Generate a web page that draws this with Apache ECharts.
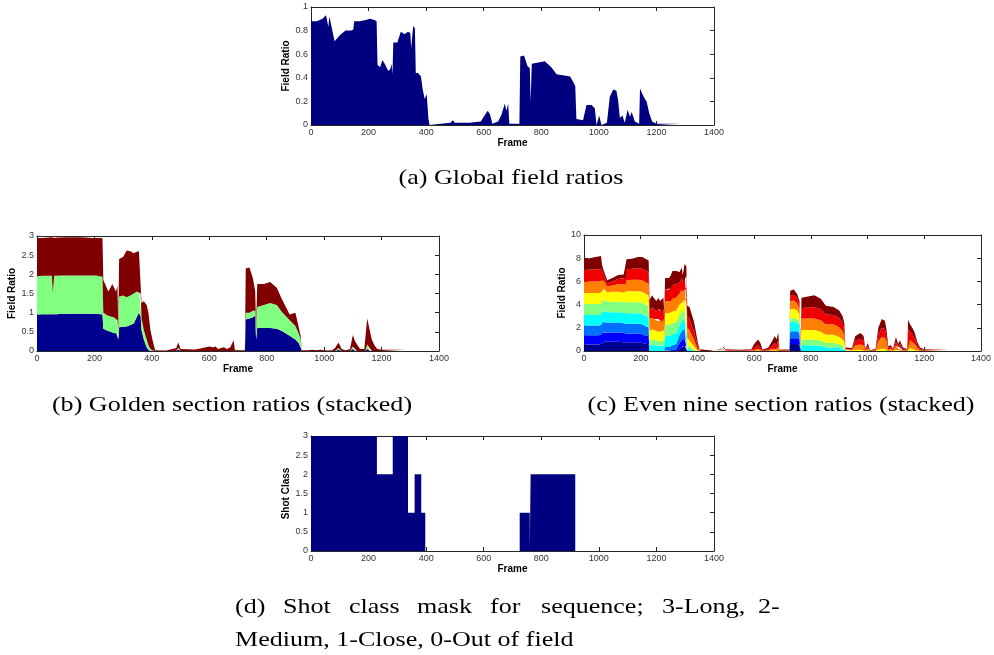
<!DOCTYPE html>
<html>
<head>
<meta charset="utf-8">
<script src="https://cdn.jsdelivr.net/npm/echarts@6/dist/echarts.min.js"></script>
<style>
html, body { margin: 0; padding: 0; background: #fff; }
#main { width: 994px; height: 655px; }
</style>
</head>
<body>
<div id="main"></div>
<script>
// frame numbers shared by panels a, b and c
var frames = [0,20,40,52,55,60,64,70,82,100,
    120,140,147,150,170,190,205,220,228,231,
    240,248,256,262,268,275,280,283,286,300,
    306,312,325,337,345,348,355,361,364,372,
    382,388,395,402,408,412,450,485,492,500,
    550,590,600,614,622,630,650,662,673,679,
    685,689,724,727,740,752,760,763,767,790,
    812,835,853,880,900,912,918,922,945,957,
    975,986,992,1001,1009,1028,1038,1050,1061,1067,
    1073,1082,1090,1100,1108,1114,1125,1140,1143,1150,
    1160,1166,1175,1185,1200,1282,1286];

// (a) global field ratio
var globalRatio = [.88,.88,.90,.93,.90,.83,.92,.91,.71,.76,
    .80,.80,.81,.88,.88,.89,.90,.89,.88,.51,
    .49,.55,.52,.49,.46,.47,.52,.43,.70,.70,
    .70,.79,.77,.79,.78,.65,.84,.82,.44,.44,
    .41,.30,.22,.26,.05,0,.01,.02,.04,.02,
    .02,.03,.07,.12,.09,.01,.03,.09,.18,.12,
    .18,.01,.01,.58,.59,.50,.48,.20,.52,.53,
    .54,.49,.43,.42,.41,.36,.33,.05,.04,.17,
    .17,.14,0,.08,0,.02,.24,.30,.29,.21,
    .06,.08,.02,.13,.07,.11,.03,.01,.31,.27,
    .22,.20,.10,.03,.01,.01,0];

// (b) golden section ratios, bottom to top
var goldLow = [.95,.96,.96,.96,.96,.96,.96,.96,.97,.97,
    .97,.97,.97,.97,.97,.97,.97,.96,.96,.58,
    .55,.52,.50,.50,.47,.48,.45,.30,.62,.63,
    .62,.64,.68,.72,.85,.90,1.0,.90,.55,.30,
    .10,.03,0,0,0,0,0,0,.04,0,
    0,0,0,0,0,0,0,0,0,0,
    0,0,0,.82,.85,.88,.92,.30,.60,.60,
    .60,.58,.52,.40,.30,.20,.10,0,0,0,
    0,0,0,0,0,0,0,.03,0,0,
    0,0,0,.05,0,0,0,0,0,.05,
    0,0,0,0,0,0,0];
var goldMid = [1,1,1,1,.55,1,1,1,1,1,
    1,1,1,1,1,1,1,.99,.98,.42,
    .40,.40,.40,.40,.41,.37,.35,.25,.80,.82,
    .83,.76,.77,.78,.70,.65,.55,.60,.30,.25,
    .20,.12,.05,.02,0,0,0,0,.05,0,
    0,0,0,0,0,0,0,0,0,0,
    .05,0,0,.18,.15,.17,.13,.20,.55,.60,
    .65,.62,.50,.40,.35,.25,.20,0,0,0,
    0,0,0,0,0,0,0,.05,0,0,
    0,0,0,.07,0,0,0,0,0,.12,
    0,0,0,0,0,0,0];
var goldTop = [1,.99,1,1.01,1.45,.99,1.01,1,.99,1,
    1,1,1,1,.99,.98,.98,1,1,.85,
    .75,.63,.75,.85,.82,.70,.90,.15,.98,1,
    1.05,1.22,1.15,1.05,1.03,1,1.05,1.15,.40,.75,
    .90,.85,.50,.28,.12,.02,.01,.08,.13,.05,
    .04,.10,.12,.10,.12,.05,.10,.05,.10,.15,
    .23,.02,.02,1.15,1.18,.85,.50,.10,.60,.55,
    .55,.45,.33,.15,.35,.15,.10,.02,.02,.03,
    .02,.03,.01,.02,.01,.02,.08,.14,.05,.02,
    .02,.03,.05,.30,.25,.20,.05,.05,.30,.68,
    .50,.30,.15,.05,.03,.03,0];

// (c) even nine section ratios, bottom to top
var sec1 = [.55,.55,.55,.55,.55,.6,.75,.8,.8,.8,
    .8,.75,.75,.75,.75,.75,.7,.6,.6,0,
    0,0,0,0,0,0,0,0,0,0,
    0,0,0,.2,.35,.4,.45,.4,0,0,
    0,0,0,0,0,0,0,0,0,0,
    0,0,0,0,0,0,0,0,0,0,
    0,0,0,.6,.6,.6,.55,0,0,0,
    0,0,0,0,0,0,0,0,0,0,
    0,0,0,0,0,0,0,0,0,0,
    0,0,0,0,0,0,0,0,0,0,
    0,0,0,0,0,0,0];
var sec2 = [.8,.8,.8,.8,.8,.8,.85,.85,.8,.8,
    .8,.8,.8,.75,.75,.75,.75,.7,.7,0,
    0,0,0,0,0,0,0,0,.05,.05,
    .05,.1,.15,.5,.6,.6,.65,.6,0,0,
    0,0,0,0,0,0,0,0,0,0,
    0,0,0,0,0,0,0,0,0,0,
    0,0,0,.5,.5,.5,.45,0,0,0,
    0,0,0,0,0,0,0,0,0,0,
    0,0,0,0,0,0,0,0,0,0,
    0,0,0,0,0,0,0,0,0,0,
    0,0,0,0,0,0,0];
var sec3 = [.85,.85,.85,.85,.85,.85,.9,.9,.85,.85,
    .85,.85,.85,.85,.85,.85,.85,.8,.8,0,
    0,0,0,0,0,0,0,0,.3,.3,
    .3,.4,.45,.7,.8,.8,.8,.8,0,0,
    0,0,0,0,0,0,0,0,0,0,
    0,0,0,0,0,0,0,0,0,0,
    0,0,0,.6,.6,.6,.55,0,0,0,
    0,0,0,0,0,0,0,0,0,0,
    0,0,0,0,0,0,0,0,0,0,
    0,0,0,0,0,0,0,0,0,0,
    0,0,0,0,0,0,0];
var sec4 = [.9,.9,.9,.9,.9,.9,.95,.95,.9,.9,
    .9,.9,.9,.9,.9,.9,.9,.9,.85,.5,
    .5,.5,.5,.5,.45,.45,.5,.35,.95,.95,
    .95,.95,.95,.85,.85,.8,.85,.85,.2,.15,
    .05,0,0,0,0,0,0,0,0,0,
    0,0,0,0,0,0,0,0,0,0,
    0,0,0,.8,.8,.75,.7,.1,.5,.5,
    .5,.45,.3,.3,.25,.2,.15,.05,0,0,
    0,0,0,0,0,0,0,0,0,0,
    0,0,0,0,0,0,0,0,0,0,
    0,0,0,0,0,0,0];
var sec5 = [.95,.95,.95,.95,.95,.95,.95,.95,.9,.9,
    .9,.9,.9,.95,.95,.95,.95,.95,.9,.4,
    .45,.45,.4,.45,.4,.4,.45,.3,.95,.95,
    .95,.95,.95,.85,.85,.8,.9,.9,.3,.25,
    .15,.1,.05,0,0,0,0,0,0,0,
    0,0,0,0,0,0,0,0,0,0,
    0,0,0,.3,.35,.3,.25,.1,.5,.5,
    .5,.45,.4,.4,.35,.3,.25,0,0,0,
    0,0,0,0,0,0,0,0,0,0,
    0,0,0,0,0,0,0,0,.05,.05,
    0,0,0,0,0,0,0];
var sec6 = [.95,.95,.95,.95,.95,.95,.9,.9,.8,.85,
    .85,.85,.85,.95,.95,.95,.95,.95,.95,.85,
    .9,.85,.8,.85,.8,.8,.85,.6,1,1,
    1,1,1,.9,.9,.85,.95,.95,.6,.5,
    .4,.3,.15,.05,0,0,0,0,.05,0,
    0,0,0,.05,0,0,0,.05,.05,.05,
    .1,0,0,.8,.8,.75,.65,.1,.8,.8,
    .8,.75,.7,.7,.6,.5,.4,.05,.05,.1,
    .1,.1,0,.05,0,0,.15,.2,.2,.1,
    0,.05,0,.1,.05,.05,0,0,.25,.2,
    .15,.1,.05,0,0,0,0];
var sec7 = [1,1,1,1,1,1,.85,.7,.5,.55,
    .65,.7,.7,.95,1,1,1,1,1,1,
    1,.95,.9,.95,.95,.9,.95,.75,1.05,1.05,
    1.05,1.1,1.1,.95,.95,.85,1,1,.9,.9,
    .7,.6,.3,.1,0,0,0,.05,.1,.05,
    0,.05,.1,.15,.1,0,.05,.15,.25,.15,
    .3,0,.05,.7,.7,.6,.5,.1,1,1,
    1,1,.9,.9,.85,.7,.55,.05,.05,.4,
    .45,.4,.05,.2,0,.05,.7,1,.95,.7,
    .1,.15,.05,.35,.15,.25,.05,.05,.8,.7,
    .6,.5,.25,.05,.05,.05,0];
var sec8 = [1,1,1.05,1.05,1.05,1.05,.75,.5,.3,.35,
    .45,.5,.55,.95,.95,1,1,1,1,.8,
    .9,.85,.8,.9,.85,.85,.9,.7,1,1,
    1.1,1.2,1.15,.95,1,.8,1,.95,.95,1,
    .8,.7,.5,.2,.05,0,0,.05,.1,.05,
    .05,.05,.2,.3,.2,.05,.1,.2,.4,.3,
    .5,.05,.05,.5,.5,.45,.35,.05,.9,.95,
    1,.95,.85,.8,.8,.7,.55,.05,.05,.4,
    .5,.4,.05,.2,0,.05,.6,.8,.75,.5,
    .15,.15,.05,.35,.2,.3,.1,.05,.8,.7,
    .6,.5,.25,.1,.05,.05,0];
var sec9 = [.95,1,1.05,1.1,1.1,1.1,.5,.35,.25,.3,
    .35,.35,.4,.85,.85,.95,1,1,1,.85,
    1.05,.9,.9,.95,.85,.8,.95,.7,1,1,
    1.1,1.2,1.15,.9,.9,.6,.9,.85,.95,1,
    .9,.8,.6,.3,.1,0,.05,.05,.1,.05,
    .05,.05,.3,.5,.4,.05,.15,.4,.6,.5,
    .7,.05,.05,.4,.45,.35,.3,.05,.9,.95,
    1,.9,.75,.7,.65,.6,.5,.1,.1,.4,
    .5,.4,.1,.25,.05,.1,.55,.75,.7,.5,
    .15,.15,.1,.4,.2,.3,.15,.05,.8,.65,
    .55,.5,.25,.15,.05,.05,0];
var nineColors = ['#00008f','#0000ff','#0070ff','#00ffff','#80ff80','#ffff00','#ff8000','#f00000','#800000'];

// (d) shot class: value holds from each start frame to the next
var shotFrames = [0,229,284,337,360,383,397,725,760,763,918];
var shotClass = [3,2,3,1,2,1,0,1,0,2,0];

var chartDom = document.getElementById('main');
var myChart = echarts.init(chartDom);

var boxColor = '#262626';
var panels = [
    {left: 311, top: 7, width: 403, height: 118, max: 1, interval: 0.2, yname: 'Field Ratio'},
    {left: 37, top: 236, width: 402, height: 115, max: 3, interval: 0.5, yname: 'Field Ratio'},
    {left: 584, top: 235, width: 404, height: 116, max: 10, interval: 2, yname: 'Field Ratio'},
    {left: 311, top: 436, width: 403, height: 115, max: 3, interval: 0.5, yname: 'Shot Class'}
];

function plain(v) { return String(v); }

var grids = [], xAxes = [], yAxes = [];
panels.forEach(function (p, g) {
    grids.push({left: p.left, top: p.top, width: p.width, height: p.height});
    var line = {show: true, onZero: false, lineStyle: {color: boxColor, width: 1}};
    var tick = {show: true, inside: true, length: 4, lineStyle: {color: boxColor}};
    var nameStyle = {fontWeight: 'bold', fontSize: 10, color: '#000', fontFamily: 'Arial'};
    var labelStyle = {fontSize: 9, color: '#333', fontFamily: 'Arial', showMinLabel: true, showMaxLabel: true, formatter: plain};
    xAxes.push({
        gridIndex: g, type: 'value', min: 0, max: 1400, interval: 200,
        name: 'Frame', nameLocation: 'middle', nameGap: 13, nameTextStyle: nameStyle,
        axisLine: line, axisTick: tick,
        axisLabel: Object.assign({margin: 3}, labelStyle),
        splitLine: {show: false}
    });
    xAxes.push({
        gridIndex: g, type: 'value', position: 'top', min: 0, max: 1400, interval: 200,
        axisLine: line, axisTick: tick, axisLabel: {show: false}, splitLine: {show: false}
    });
    yAxes.push({
        gridIndex: g, type: 'value', min: 0, max: p.max, interval: p.interval,
        name: p.yname, nameLocation: 'middle', nameGap: 12, nameTextStyle: nameStyle,
        axisLine: line, axisTick: tick,
        axisLabel: Object.assign({margin: 3}, labelStyle),
        splitLine: {show: false}
    });
    yAxes.push({
        gridIndex: g, type: 'value', position: 'right', min: 0, max: p.max, interval: p.interval,
        axisLine: line, axisTick: tick, axisLabel: {show: false}, splitLine: {show: false}
    });
});

// value first, frame second, so that stacking works on the value dimension
function pairs(xs, ys) {
    return xs.map(function (x, i) { return [ys[i], x]; });
}

function area(g, values, color, stack, xs) {
    return {
        type: 'line', xAxisIndex: 2 * g, yAxisIndex: 2 * g,
        data: pairs(xs || frames, values), encode: {x: 1, y: 0}, stack: stack,
        symbol: 'none', silent: true,
        lineStyle: {width: 0},
        areaStyle: {color: color, opacity: 1}
    };
}

var series = [];
series.push(area(0, globalRatio, '#000080'));
series.push(area(1, goldLow, '#00008f', 'gold'));
series.push(area(1, goldMid, '#80ff80', 'gold'));
series.push(area(1, goldTop, '#800000', 'gold'));
[sec1, sec2, sec3, sec4, sec5, sec6, sec7, sec8, sec9].forEach(function (s, i) {
    series.push(area(2, s, nineColors[i], 'nine'));
});
var shot = area(3, shotClass, '#000080', null, shotFrames);
shot.step = 'end';
series.push(shot);

// Computer Modern is wide, so a Times-like face is stretched sideways
var capFont = '21px "Liberation Serif"';
function caption(text, x, y, align) {
    return {
        type: 'text', x: x, y: y, scaleX: 1.24, silent: true,
        style: {text: text, font: capFont, fill: '#000',
            align: align, textAlign: align, verticalAlign: 'middle', textVerticalAlign: 'middle'}
    };
}
var graphics = [
    caption('(a) Global field ratios', 511, 178, 'center'),
    caption('(b) Golden section ratios (stacked)', 232, 405, 'center'),
    caption('(c) Even nine section ratios (stacked)', 781, 405, 'center'),
    caption('Medium, 1-Close, 0-Out of field', 235, 640, 'left')
];
// justified first line of caption (d)
var dWords = ['(d)', 'Shot', 'class', 'mask', 'for', 'sequence;', '3-Long,', '2-'];
var dWordX = [235, 283, 349, 417, 490, 541, 662, 758];
dWords.forEach(function (w, i) {
    graphics.push(caption(w, dWordX[i], 607, 'left'));
});

var option = {
    animation: false,
    backgroundColor: '#fff',
    grid: grids,
    xAxis: xAxes,
    yAxis: yAxes,
    series: series,
    graphic: graphics
};

if (option && typeof option === 'object') {
    myChart.setOption(option);
}
</script>
</body>
</html>
